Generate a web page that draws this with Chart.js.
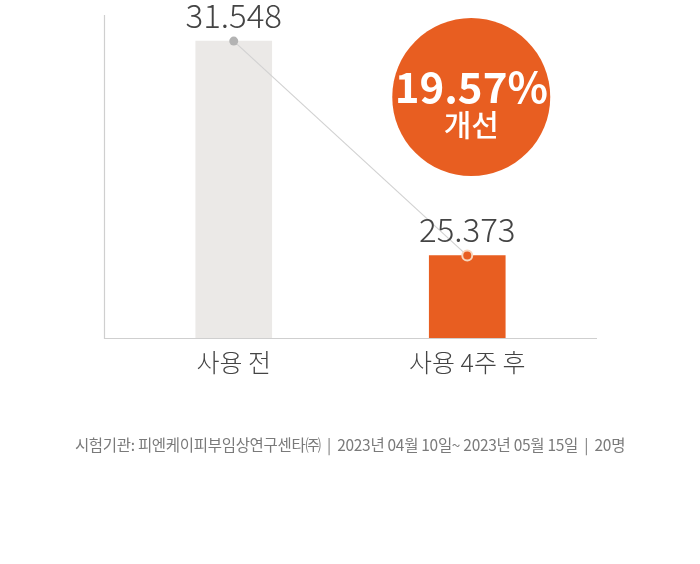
<!DOCTYPE html>
<html>
<head>
<meta charset="utf-8">
<script src="https://cdn.jsdelivr.net/npm/chart.js@4.4.1/dist/chart.umd.min.js"></script>
<style>
  html, body { margin: 0; padding: 0; background: #fff; }
  #wrap { position: relative; width: 700px; height: 564px; }
  #note {
    position: absolute; left: 0; top: 433px; width: 700px; text-align: center;
    font-family: 'Noto Sans CJK KR', 'Noto Sans', sans-serif; font-size: 15.5px; color: #7a7a7a;
    letter-spacing: -0.3px; white-space: pre;
  }
</style>
</head>
<body>
<div id="wrap">
  <canvas id="myChart" width="700" height="564"></canvas>
  <div id="note">시험기관: 피엔케이피부임상연구센타㈜  |  2023년 04월 10일~ 2023년 05월 15일  |  20명</div>
</div>
<script>
const categories = ['사용 전', '사용 4주 후'];
const values = [31.548, 25.373];
const valueLabels = ['31.548', '25.373'];
const badgeLines = ['19.57%', '개선'];

const barColors = ['#ebe9e7', '#e85e21'];
const FONT = "'Noto Sans CJK KR', 'Noto Sans', sans-serif";

// axis lines, value labels and the improvement badge
const decorPlugin = {
  id: 'decor',
  beforeDatasetsDraw(chart) {
    const { ctx, chartArea } = chart;
    ctx.save();
    ctx.strokeStyle = '#cfcfcf';
    ctx.lineWidth = 1.2;
    ctx.beginPath();
    ctx.moveTo(104.5, chartArea.top);
    ctx.lineTo(104.5, chartArea.bottom + 0.5);
    ctx.lineTo(597, chartArea.bottom + 0.5);
    ctx.stroke();
    ctx.restore();
  },
  afterDatasetsDraw(chart) {
    const { ctx } = chart;
    const xs = chart.scales.x;
    const meta = chart.getDatasetMeta(1);
    ctx.save();
    ctx.fillStyle = '#444';
    ctx.font = '300 33px ' + FONT;
    ctx.textAlign = 'center';
    ctx.textBaseline = 'middle';
    meta.data.forEach((el, i) => {
      ctx.fillText(valueLabels[i], el.x, el.y - 26);
    });

    // badge
    const cx = xs.getPixelForValue(1) + 4;
    const cy = 97;
    ctx.beginPath();
    ctx.arc(cx, cy, 79, 0, Math.PI * 2);
    ctx.fillStyle = '#e85e21';
    ctx.fill();
    ctx.fillStyle = '#fff';
    ctx.font = 'bold 42px ' + FONT;
    ctx.fillText(badgeLines[0], cx, cy - 10);
    ctx.font = '500 30px ' + FONT;
    ctx.fillText(badgeLines[1], cx, cy + 28);
    ctx.restore();
  }
};

new Chart(document.getElementById('myChart').getContext('2d'), {
  data: {
    labels: categories,
    datasets: [
      {
        type: 'bar',
        data: values,
        backgroundColor: barColors,
        barThickness: 76,
        order: 1
      },
      {
        type: 'line',
        data: values,
        borderColor: '#d2d2d2',
        borderWidth: 1.2,
        pointRadius: [4.5, 5],
        pointBackgroundColor: ['#b3b3b3', '#e85e21'],
        pointBorderColor: ['#b3b3b3', '#f7d6bd'],
        pointBorderWidth: [0, 2],
        tension: 0,
        order: 0
      }
    ]
  },
  options: {
    responsive: false,
    animation: false,
    layout: { padding: { left: 117, right: 116, top: 15, bottom: 178 } },
    plugins: { legend: { display: false }, tooltip: { enabled: false } },
    scales: {
      x: {
        grid: { display: false, drawTicks: false },
        border: { display: false },
        ticks: { color: '#444', padding: 9, font: { family: FONT, size: 25, weight: '300' } }
      },
      y: {
        display: false,
        min: 23,
        max: 32.3
      }
    }
  },
  plugins: [decorPlugin]
});
</script>
</body>
</html>
